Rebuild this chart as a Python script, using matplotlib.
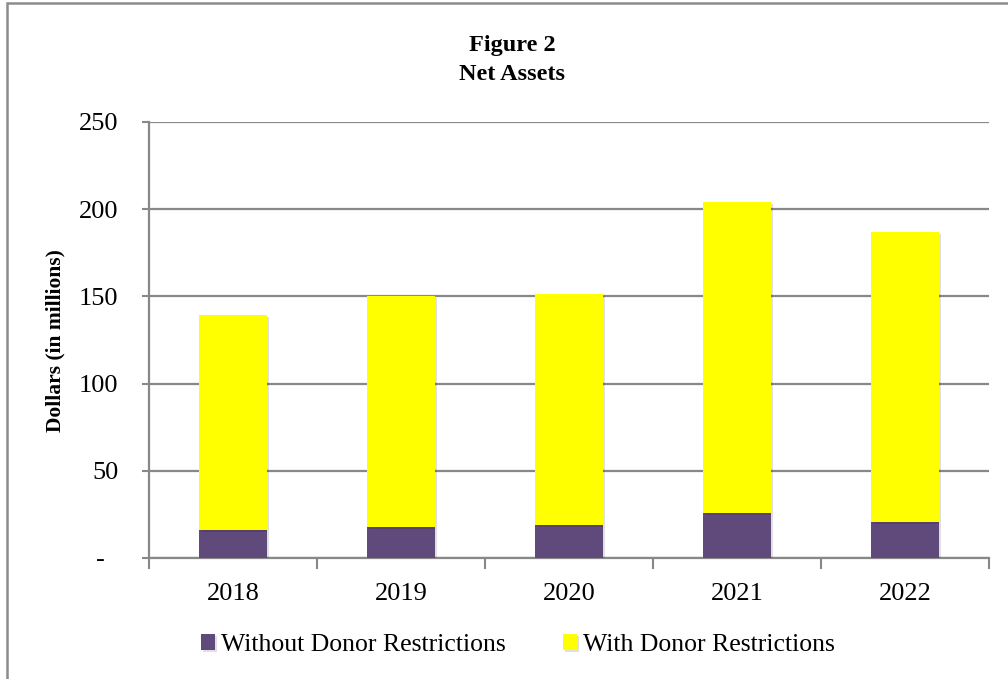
import numpy as np
import matplotlib
matplotlib.use("Agg")
import matplotlib.pyplot as plt
import matplotlib.patheffects as pe
from matplotlib.patches import Rectangle

years = ["2018", "2019", "2020", "2021", "2022"]
without_donor = [16.2, 17.8, 18.9, 25.8, 20.6]
with_donor = [123.1, 132.4, 132.3, 178.1, 166.4]
yticks = [0, 50, 100, 150, 200, 250]
ytick_labels = ["-  ", "50", "100", "150", "200", "250"]

purple = "#604A7B"
yellow = "#FFFF00"
grid_gray = "#888888"

plt.rcParams["font.family"] = ["Liberation Serif", "DejaVu Serif"]

fig = plt.figure(figsize=(10.08, 6.79), dpi=100)
ax = fig.add_axes((149 / 1008, 1 - 558 / 679, 840 / 1008, 436 / 679))

x = np.arange(len(years))
shadow = [pe.SimplePatchShadow(offset=(1.5, -1.5), shadow_rgbFace="#000000", alpha=0.12), pe.Normal()]
b1 = ax.bar(x, without_donor, width=0.405, color=purple, label="Without Donor Restrictions", zorder=3)
b2 = ax.bar(x, with_donor, width=0.405, bottom=without_donor, color=yellow,
            label="With Donor Restrictions", zorder=3)
for p in list(b1) + list(b2):
    p.set_path_effects(shadow)

ax.set_xlim(-0.5, len(years) - 0.5)
ax.set_ylim(0, 250)

# category boundaries carry the tick marks, centres carry the labels
ax.set_xticks(np.arange(len(years) + 1) - 0.5)
ax.set_xticklabels([])
ax.set_xticks(x, minor=True)
ax.set_xticklabels(years, minor=True, fontsize=19)
ax.tick_params(axis="x", which="major", length=8, width=1.5, color=grid_gray, direction="out")
ax.tick_params(axis="x", which="minor", length=0, pad=18)

ax.set_yticks(yticks)
ax.set_yticklabels(ytick_labels, fontsize=19)
ax.tick_params(axis="y", length=5, width=1.5, color=grid_gray, pad=17)

ax.grid(axis="y", color=grid_gray, linewidth=1.6, zorder=0)
for s in ["top", "right"]:
    ax.spines[s].set_visible(False)
for s in ["left", "bottom"]:
    ax.spines[s].set_color(grid_gray)
    ax.spines[s].set_linewidth(1.6)

fig.text(55 / 1008, 1 - 341 / 679, "Dollars (in millions)", ha="center", va="center",
         rotation=90, fontsize=15.5, fontweight="bold")

fig.text(512 / 1008, 1 - 45 / 679, "Figure 2", ha="center", va="center",
         fontsize=17.5, fontweight="bold")
fig.text(512 / 1008, 1 - 74 / 679, "Net Assets", ha="center", va="center",
         fontsize=17.5, fontweight="bold")

fig.legend(handles=[b1, b2], loc="center", bbox_to_anchor=(518 / 1008, 1 - 645 / 679),
           ncol=2, frameon=False, fontsize=18.5, handlelength=0.55, handleheight=0.55,
           handletextpad=0.25, columnspacing=2.2)

fig.patches.append(Rectangle((7 / 1008, -0.1), 1.2, 1.1 - 3 / 679, transform=fig.transFigure,
                             fill=False, edgecolor="#8c8c8c", linewidth=1.8))

fig.savefig("out.png", dpi=100)
